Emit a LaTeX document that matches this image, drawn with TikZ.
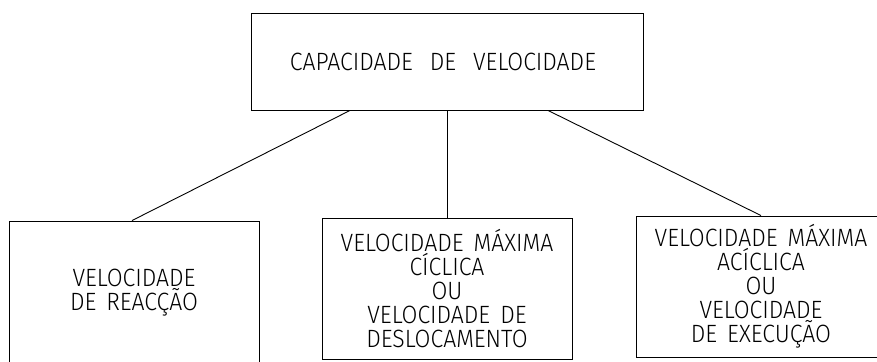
\documentclass[tikz,border=0pt]{standalone}
\usepackage{fontspec}
\IfFontExistsTF{Fira Sans Light}
  {\setmainfont{Fira Sans Light}[FakeStretch=0.92]}
  {\setmainfont{Liberation Sans}[FakeStretch=0.92]}
\tikzset{caixa/.style={draw,line width=0.9pt,inner sep=0pt,align=center,
  font={\fontsize{25}{24}\selectfont\spaceskip 10pt\relax}}}

\begin{document}
\begin{tikzpicture}[x=1pt,y=-1pt]
  \useasboundingbox (0,0) rectangle (877,361);
  \node[caixa,minimum width=392pt,minimum height=97pt] (cap) at (447,61.5)
    {\spaceskip 17pt\relax CAPACIDADE DE VELOCIDADE\hspace{8pt}};
  \node[caixa,minimum width=250pt,minimum height=144pt] (reaccao) at (134,293)
    {VELOCIDADE\\DE REACÇÃO};
  \node[caixa,minimum width=250pt,minimum height=141pt] (ciclica) at (447,288.5)
    {VELOCIDADE MÁXIMA\\CÍCLICA\\OU\\VELOCIDADE DE\\DESLOCAMENTO};
  \node[caixa,minimum width=250pt,minimum height=141pt] (execucao) at (761,286.5)
    {VELOCIDADE MÁXIMA\\ACÍCLICA\\OU\\VELOCIDADE\\DE EXECUÇÃO};
  \draw[line width=0.9pt] ([xshift=-97pt]cap.south) -- ([xshift=-2pt]reaccao.north);
  \draw[line width=0.9pt] (cap.south) -- (ciclica.north);
  \draw[line width=0.9pt] ([xshift=101pt]cap.south) -- (execucao.north);
\end{tikzpicture}
\end{document}
